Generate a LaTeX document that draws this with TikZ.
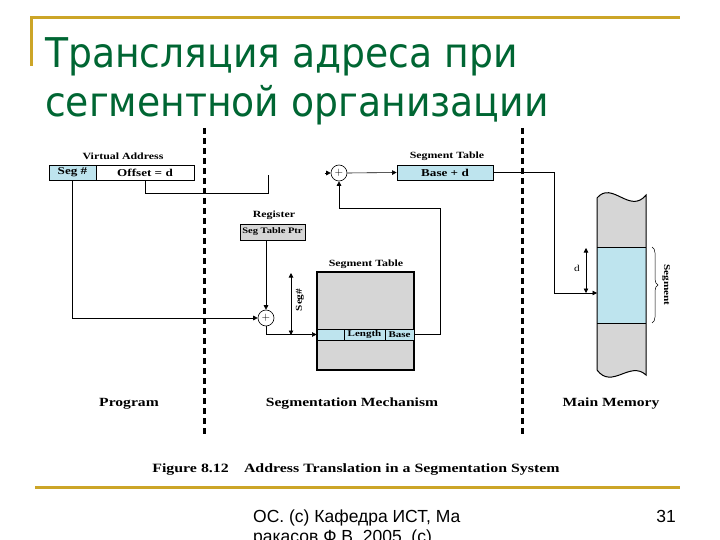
\documentclass[tikz,border=0pt]{standalone}
\usepackage{fontspec}
\setmainfont{Liberation Serif}
\newfontfamily\titlefont[FakeStretch=0.92]{DejaVu Sans}
\newfontfamily\footfont{Liberation Sans}
\newfontfamily\figfont[FakeStretch=1.25]{Liberation Serif}
\usetikzlibrary{arrows.meta,calc,decorations.pathreplacing}
\definecolor{gold}{RGB}{204,165,40}
\definecolor{tgreen}{RGB}{0,102,51}
\definecolor{lblue}{RGB}{190,228,238}
\definecolor{mgray}{RGB}{214,214,214}
\begin{document}
\begin{tikzpicture}[x=1pt,y=-1pt,
 conn/.style={line width=0.6pt},
 arr/.style={-{Triangle[length=4.5pt,width=4.5pt]}},
 dbl/.style={{Triangle[length=4.5pt,width=4.5pt]}-{Triangle[length=4.5pt,width=4.5pt]}, line width=0.9pt},
 cell/.style={draw, line width=0.8pt, inner sep=0pt, minimum height=15pt, font=\figfont\bfseries\fontsize{10.5}{12}\selectfont},
 tcell/.style={cell, minimum height=11pt, fill=lblue, font=\figfont\bfseries\fontsize{8.8}{10}\selectfont},
 lbl/.style={font=\figfont\bfseries\fontsize{12.5}{14}\selectfont, inner sep=0pt},
 slbl/.style={font=\figfont\bfseries\fontsize{9.5}{11}\selectfont, inner sep=0pt},
 adder/.style={draw, circle, minimum size=16pt, inner sep=0pt, line width=0.6pt, font=\fontsize{11}{11}\selectfont},
 divider/.style={line width=3pt, dash pattern=on 6pt off 4pt},
 goldline/.style={draw=gold, line width=3pt},
 titletext/.style={anchor=base west, inner sep=0pt, text=tgreen, font=\titlefont\fontsize{41}{46}\selectfont},
 foottext/.style={anchor=base west, inner sep=0pt, font=\footfont\fontsize{17.5}{20}\selectfont}
]
\useasboundingbox (0,0) rectangle (720,540);
\clip (0,0) rectangle (720,540);
\fill[white] (0,0) rectangle (720,540);

% slide frame
\draw[goldline] (30,18) -- (680,18);
\draw[goldline] (31,18) -- (31,66);
\draw[goldline] (35,487) -- (680,487);

% title
\node[titletext] (t1) at (45,68) {Трансляция адреса при};
\node[titletext] (t2) at (45,117) {сегментной организации};

% footer
\node[foottext] (f1) at (253,522.5) {ОС. (c) Кафедра ИСТ, Ма};
\node[foottext] (f2) at (253,542.5) {ракасов Ф.В. 2005, (c)};
\node[foottext, anchor=base east] (pg) at (676,522.5) {31};

% dividers
\draw[divider] (204,128) -- (204,436);
\draw[divider] (522,128) -- (522,436);

% virtual address
\node[slbl] (vat) at (123,156) {Virtual Address};
\node[cell, fill=lblue, minimum width=47pt] (seg) at (72.5,172.5) {Seg \#};
\node[cell, minimum width=98pt] (off) at (145,172.5) {Offset = d};

% register
\node[slbl] (regl) at (274,215) {Register};
\node[cell, fill=mgray, minimum width=65pt, minimum height=16pt, font=\figfont\bfseries\fontsize{8.4}{10}\selectfont] (reg) at (272.5,232) {Seg Table Ptr};

% adders
\node[adder] (add2) at (266,318) {$+$};
\node[adder] (add1) at (339,173) {$+$};

% segment table (big)
\node[slbl] (stl) at (366,264) {Segment Table};
\node[draw, fill=mgray, line width=1.5pt, minimum width=97pt, minimum height=98pt, inner sep=0pt] (st) at (365.5,321) {};
\node[tcell, minimum width=27pt] (e0) at (330.5,334.5) {};
\node[tcell, minimum width=41pt] (len) at (364.5,334.5) {Length};
\node[tcell, minimum width=29pt] (base) at (399.5,334.5) {Base};

% seg# arrow
\coordinate (sa) at (291,273);
\coordinate (sb) at (291,335);
\draw[dbl] (sa) -- (sb);
\node[slbl, rotate=90, font=\figfont\bfseries\fontsize{9}{10}\selectfont] (segh) at (300,300) {Seg\#};

% segment table entry (top)
\node[slbl] (btl) at (447,156) {Segment Table};
\node[cell, fill=lblue, minimum width=96pt] (bt) at (445,172.5) {Base + d};

% main memory
\fill[mgray] (597,198) .. controls (612,180) and (630,215) .. (646,195)
  -- (646,375) .. controls (630,360) and (612,390) .. (597,370) -- cycle;
\fill[lblue] (597,247) rectangle (646,323);
\draw[line width=1pt] (597,370) -- (597,198) .. controls (612,180) and (630,215) .. (646,195) -- (646,375) .. controls (630,360) and (612,390) .. (597,370);
\draw[line width=1pt] (597,247) -- (646,247);
\draw[line width=1pt] (597,323) -- (646,323);
\coordinate (memin) at (597,293);
\coordinate (da) at (586,248);
\coordinate (db) at (586,293);
\draw[dbl, line width=0.7pt] (da) -- (db);
\node[font=\figfont\fontsize{9}{10}\selectfont] (dl) at (577,268) {d};
\coordinate (bra) at (652,247);
\coordinate (brb) at (652,323);
\draw[decorate, decoration={brace, amplitude=6pt}, line width=0.5pt] (bra) -- (brb);
\node[slbl, rotate=-90, font=\figfont\bfseries\fontsize{9}{10}\selectfont] (segl) at (666,285) {Segment};

% connectors
\coordinate (oe) at (268,175);
\draw[conn] (off.south) -- (off.south |- 0,193) -| (oe);
\draw[conn, arr] ($(add1.west)+(-6,0)$) -- (add1.west);
\draw[conn, arr] (seg.south) |- (add2.west);
\draw[conn, arr] (reg.south -| add2) -- (add2.north);
\draw[conn, arr] (add2.south) |- (e0.west);
\coordinate (r1) at (440,208);
\draw[conn, arr] (base.east) -| (r1) -| (add1.south);
\draw[conn, arr] (add1.east) -- (bt.west);
\coordinate (m1) at (554,172.5);
\draw[conn, arr] (bt.east) -- (m1) |- (memin);

% bottom labels
\node[lbl] (prog) at (129,404) {Program};
\node[lbl] (segm) at (352,404) {Segmentation Mechanism};
\node[lbl] (mm) at (611,404) {Main Memory};
\node[font=\figfont\bfseries\fontsize{12.7}{14}\selectfont, inner sep=0pt] (cap) at (356,469) {Figure 8.12\hspace{1.2em}Address Translation in a Segmentation System};
\end{tikzpicture}
\end{document}
